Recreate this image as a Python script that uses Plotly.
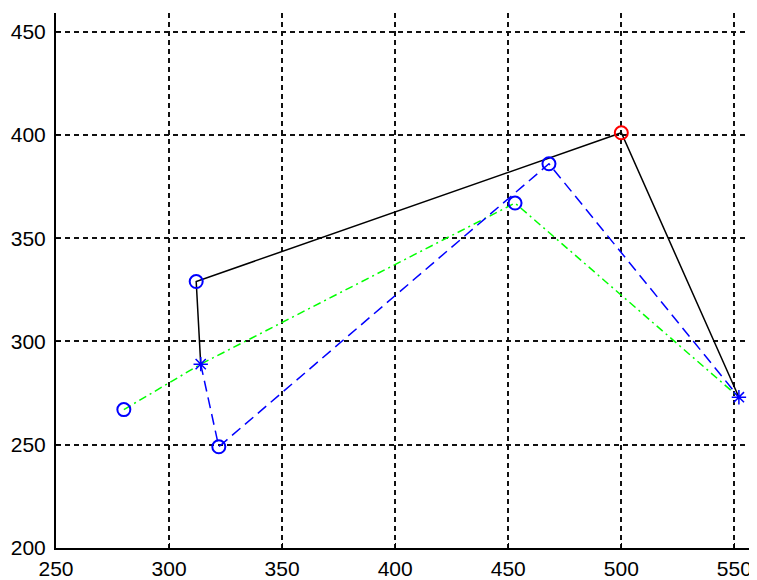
import plotly.graph_objects as go

# Data
black_x = [314, 312, 500, 552]
black_y = [289, 329, 401, 273]

green_x = [280, 314, 453, 552]
green_y = [267, 289, 367, 273]

blue_x = [314, 322, 468, 552]
blue_y = [289, 249, 386, 273]

circle_x = [280, 312, 322, 453, 468]
circle_y = [267, 329, 249, 367, 386]

red_x = [500]
red_y = [401]

star_x = [314, 552]
star_y = [289, 273]

x_ticks = [250, 300, 350, 400, 450, 500, 550]
y_ticks = [200, 250, 300, 350, 400, 450]

fig = go.Figure()
fig.add_trace(go.Scatter(x=green_x, y=green_y, mode="lines",
                         line=dict(color="#00ff00", width=1.5, dash="8px,4px,2px,4px")))
fig.add_trace(go.Scatter(x=blue_x, y=blue_y, mode="lines",
                         line=dict(color="#0000ff", width=1.5, dash="11px,6px")))
fig.add_trace(go.Scatter(x=black_x, y=black_y, mode="lines",
                         line=dict(color="#000000", width=1.5)))
fig.add_trace(go.Scatter(x=circle_x, y=circle_y, mode="markers",
                         marker=dict(symbol="circle-open", size=13, color="#0000ff",
                                     line=dict(width=2, color="#0000ff"))))
fig.add_trace(go.Scatter(x=red_x, y=red_y, mode="markers",
                         marker=dict(symbol="circle-open", size=13, color="#ff0000",
                                     line=dict(width=2, color="#ff0000"))))
fig.add_trace(go.Scatter(x=star_x, y=star_y, mode="markers",
                         marker=dict(symbol="asterisk-open", size=12, color="#0000ff",
                                     line=dict(width=1.5, color="#0000ff"))))

axis_common = dict(
    showgrid=True, gridcolor="#111111", griddash="5px,4px", gridwidth=1.5,
    showline=True, linecolor="#000000", linewidth=2, mirror=False,
    ticks="inside", ticklen=5, tickcolor="#000000", tickwidth=1,
    zeroline=False, automargin=False,
    tickfont=dict(family="Liberation Sans", size=21, color="#000000"),
)

fig.update_layout(
    width=749, height=572,
    margin=dict(l=48, r=0, t=5, b=32),
    paper_bgcolor="white", plot_bgcolor="white",
    showlegend=False,
    xaxis=dict(range=[250, 560], tickvals=x_ticks, ticklabelstandoff=1, **axis_common),
    yaxis=dict(range=[200, 459], tickvals=y_ticks, ticklabelstandoff=4, **axis_common),
)

fig.write_html("out.html")
